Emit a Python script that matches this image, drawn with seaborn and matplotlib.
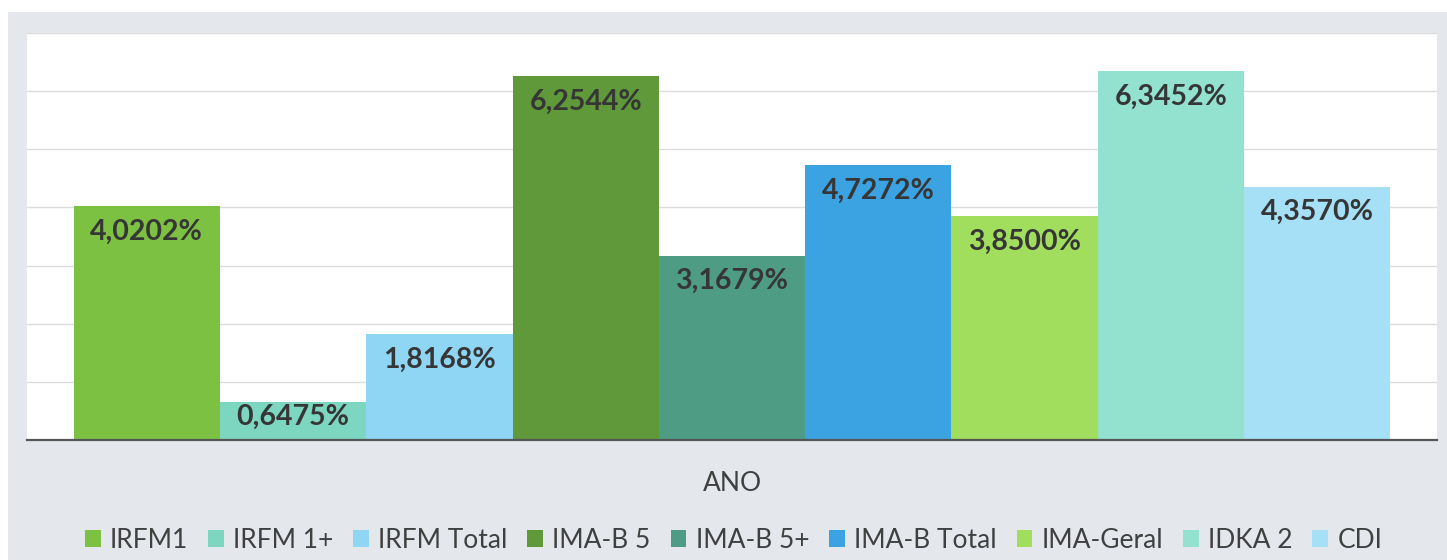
import pandas as pd
import seaborn as sns
import matplotlib.pyplot as plt
from matplotlib.patches import Rectangle

categoria = 'ANO'
indices = ['IRFM1', 'IRFM 1+', 'IRFM Total', 'IMA-B 5', 'IMA-B 5+',
           'IMA-B Total', 'IMA-Geral', 'IDKA 2', 'CDI']
valores = [4.0202, 0.6475, 1.8168, 6.2544, 3.1679, 4.7272, 3.8500, 6.3452, 4.3570]
cores = ['#7cc142', '#7dd6bf', '#8fd5f4', '#5f9939', '#4f9c84',
         '#3ca3e3', '#a2de5e', '#93e1cf', '#a5e0f7']

df = pd.DataFrame({'cat': [categoria] * len(indices), 'indice': indices, 'valor': valores})

sns.set_style('white')
plt.rcParams['font.family'] = ['Lato', 'DejaVu Sans']

fig = plt.figure(figsize=(14.47, 5.6), dpi=100, facecolor='white')
# fundo cinza do "print"
fig.patches.append(Rectangle((8 / 1447, 0), 1, 1 - 12 / 560, transform=fig.transFigure,
                             facecolor='#e4e8ed', edgecolor='none', zorder=-10))
ax = fig.add_axes([27 / 1447, 120 / 560, 1410 / 1447, 407 / 560])
ax.set_facecolor('white')

sns.barplot(data=df, x='cat', y='valor', hue='indice', palette=cores, width=0.934,
            linewidth=0, saturation=1, ax=ax, legend=True)

ax.set_ylim(0, 7)
ax.set_xlim(-0.5, 0.5)
ax.set_yticks(range(1, 8))
ax.set_yticklabels([])
ax.tick_params(axis='y', length=0)
ax.tick_params(axis='x', length=0, pad=22, labelsize=19, labelcolor='#404040')
ax.yaxis.grid(True, color='#dcdcdc', linewidth=1)
ax.set_axisbelow(True)
ax.set_xlabel('')
ax.set_ylabel('')
for s in ['top', 'left', 'right']:
    ax.spines[s].set_visible(False)
ax.spines['bottom'].set_color('#555555')
ax.spines['bottom'].set_linewidth(1.6)

for cont in ax.containers:
    for barra in cont:
        v = barra.get_height()
        txt = f'{v:.4f}'.replace('.', ',') + '%'
        desloc = -9 if v > 1 else -1  # barra baixa: rótulo sobe pra caber
        ax.annotate(txt, (barra.get_x() + barra.get_width() / 2, v), xytext=(0, desloc),
                    textcoords='offset points', ha='center', va='top',
                    fontsize=20.5, fontweight='bold', color='#363636')

h, l = ax.get_legend_handles_labels()
ax.get_legend().remove()
fig.legend(h, l, loc='center', bbox_to_anchor=(0.507, 20 / 560), ncol=9, frameon=False,
           fontsize=19, handlelength=0.6, handleheight=0.6, handletextpad=0.35,
           columnspacing=0.75, labelcolor='#404040')

fig.savefig('out.png', dpi=100, facecolor=fig.get_facecolor())
